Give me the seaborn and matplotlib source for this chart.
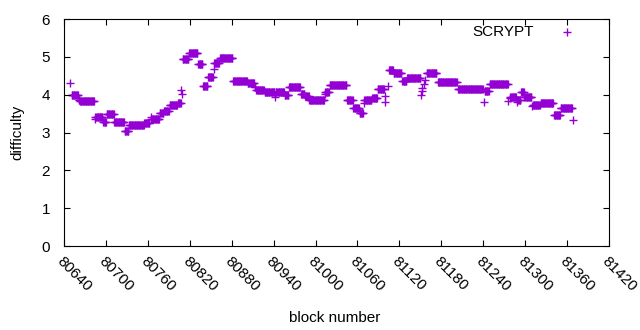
import numpy as np
import pandas as pd
import matplotlib
matplotlib.use('Agg')
import matplotlib.pyplot as plt
import matplotlib.transforms as mtransforms
import seaborn as sns

# difficulty runs: first block, last block, difficulty
run_start = [80649, 80651, 80661, 80663, 80684, 80685, 80696, 80701, 80712, 80727,
             80733, 80755, 80764, 80765, 80777, 80783, 80791, 80803, 80808, 80809,
             80810, 80819, 80832, 80839, 80846, 80854, 80855, 80863, 80882, 80903,
             80913, 80915, 80927, 80942, 80943, 80956, 80962, 80979, 80985, 80991,
             81013, 81014, 81020, 81045, 81054, 81063, 81069, 81070, 81081, 81089,
             81099, 81100, 81104, 81105, 81112, 81124, 81131, 81151, 81152, 81153,
             81155, 81157, 81159, 81175, 81204, 81241, 81242, 81249, 81276, 81278,
             81279, 81288, 81289, 81294, 81299, 81310, 81311, 81322, 81341, 81351,
             81369]
run_end = [80649, 80660, 80662, 80683, 80684, 80695, 80700, 80711, 80726, 80732,
           80754, 80762, 80764, 80776, 80782, 80790, 80802, 80807, 80808, 80809,
           80818, 80831, 80838, 80845, 80853, 80854, 80862, 80881, 80902, 80912,
           80914, 80926, 80941, 80942, 80955, 80961, 80978, 80984, 80990, 81012,
           81013, 81019, 81044, 81053, 81062, 81068, 81069, 81080, 81088, 81098,
           81099, 81100, 81104, 81111, 81123, 81130, 81150, 81151, 81152, 81153,
           81155, 81157, 81173, 81202, 81239, 81241, 81248, 81275, 81276, 81278,
           81287, 81288, 81293, 81298, 81309, 81310, 81321, 81340, 81350, 81367,
           81369]
run_value = [4.32, 4.00, 3.86, 3.82, 3.37, 3.42, 3.29, 3.50, 3.29, 3.03,
             3.21, 3.26, 3.41, 3.37, 3.52, 3.56, 3.72, 3.79, 4.12, 4.01,
             4.93, 5.11, 4.80, 4.22, 4.48, 4.69, 4.85, 4.96, 4.37, 4.32,
             4.20, 4.12, 4.06, 3.95, 4.06, 3.98, 4.19, 4.02, 3.97, 3.86,
             4.03, 4.07, 4.25, 3.86, 3.65, 3.51, 3.78, 3.86, 3.92, 4.15,
             3.80, 3.96, 4.24, 4.65, 4.58, 4.35, 4.43, 3.98, 4.10, 4.18,
             4.28, 4.40, 4.58, 4.34, 4.15, 3.81, 4.10, 4.28, 3.82, 3.91,
             3.94, 3.81, 3.86, 4.07, 3.94, 3.69, 3.73, 3.78, 3.46, 3.65,
             3.33]

x_ticks = list(range(80640, 81421, 60))
y_ticks = [0, 1, 2, 3, 4, 5, 6]

blocks = np.concatenate([np.arange(a, b + 1) for a, b in zip(run_start, run_end)])
diffs = np.concatenate([[v] * (b - a + 1) for a, b, v in zip(run_start, run_end, run_value)])
df = pd.DataFrame({'block': blocks, 'difficulty': diffs})

plt.rcParams['font.family'] = ['Liberation Sans', 'DejaVu Sans']
plt.rcParams['font.size'] = 11

fig = plt.figure(figsize=(6.4, 3.3), dpi=100)
ax = fig.add_axes([64 / 640, 1 - 246 / 330, 545 / 640, 227 / 330])

sns.scatterplot(data=df, x='block', y='difficulty', marker='+', color='#9400D3',
                s=32, linewidth=1, label='SCRYPT', ax=ax)

ax.set_xlim(80640, 81420)
ax.set_ylim(0, 6)
ax.set_xticks(x_ticks)
ax.set_yticks(y_ticks)
ax.set_xticklabels([str(t) for t in x_ticks], rotation=-45, ha='left', va='top',
                   rotation_mode='anchor')
shift = mtransforms.ScaledTranslation(4 / 100, 2 / 100, fig.dpi_scale_trans)
for lab in ax.get_xticklabels():
    lab.set_transform(lab.get_transform() + shift)
ax.tick_params(direction='in', length=4, width=0.8, top=True, right=True,
               labelsize=11, colors='black')
ax.tick_params(axis='x', pad=6)
ax.tick_params(axis='y', pad=10)
for sp in ax.spines.values():
    sp.set_linewidth(0.8)
ax.set_xlabel('block number', fontsize=11)
ax.set_ylabel('difficulty', fontsize=11)
ax.xaxis.set_label_coords(0.497, -0.285)
ax.yaxis.set_label_coords(-0.073, 0.5)

ax.legend(loc='upper right', markerfirst=False, frameon=False, fontsize=11,
          handletextpad=1.2, borderaxespad=0.2, bbox_to_anchor=(0.968, 1.013))

fig.savefig('out.png', dpi=100)
